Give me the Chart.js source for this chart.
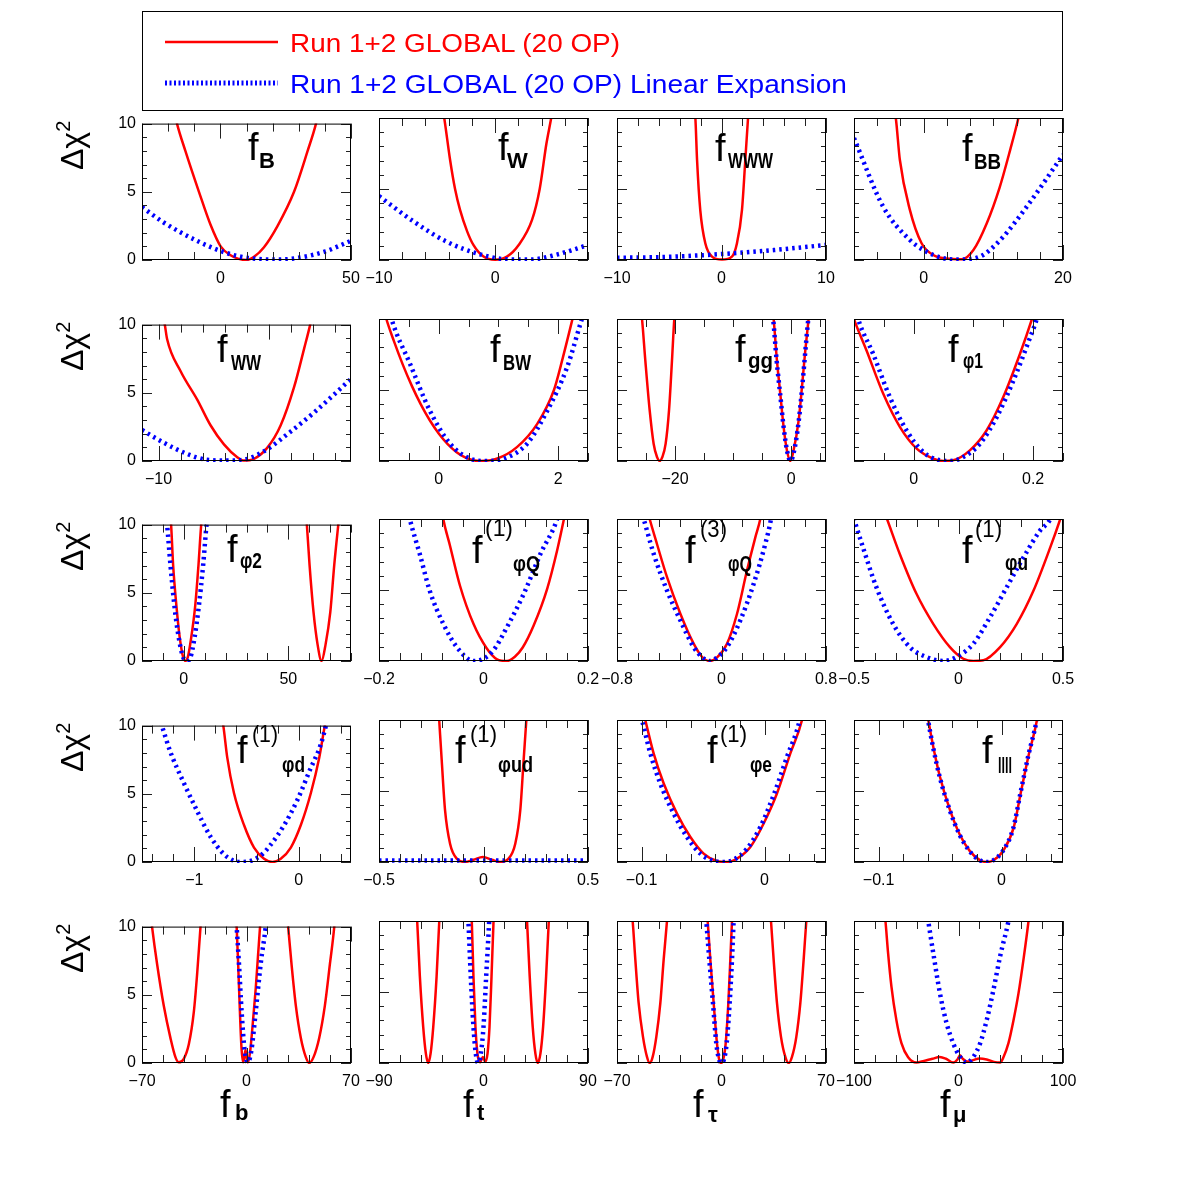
<!DOCTYPE html>
<html>
<head>
<meta charset="utf-8">
<script src="https://cdn.jsdelivr.net/npm/chart.js"></script>
<style>
html,body{margin:0;padding:0;background:#fff;width:1182px;height:1182px;overflow:hidden;position:relative}
canvas.p{position:absolute}
#ov{position:absolute;left:0;top:0;pointer-events:none}
#ov text{font-family:"Liberation Sans",Arial,sans-serif;fill:#000}
</style>
</head>
<body>
<svg id="ov" width="1182" height="1182" xmlns="http://www.w3.org/2000/svg"></svg>
<script>
// ---------------- DATA ----------------
const legendLabels = ['Run 1+2 GLOBAL (20 OP)', 'Run 1+2 GLOBAL (20 OP) Linear Expansion'];
const yTickLabels = [0, 5, 10];
const panelSub = ['B','W','WWW','BB','WW','BW','gg','\u03c61','\u03c62','\u03c6Q','\u03c6Q','\u03c6u','\u03c6d','\u03c6ud','\u03c6e','llll','b','t','\u03c4','\u03bc'];
const panelSup = ['','','','','','','','','','(1)','(3)','(1)','(1)','(1)','(1)','','','','',''];

const xRanges = [
  [-30,50],[-10,8],[-10,10],[-10,20],
  [-11.5,7.5],[-1,2.5],[-30,6],[-0.1,0.25],
  [-20,80],[-0.2,0.2],[-0.8,0.8],[-0.5,0.5],
  [-1.5,0.5],[-0.5,0.5],[-0.12,0.05],[-0.12,0.05],
  [-70,70],[-90,90],[-70,70],[-100,100]];
const xTickLabels = [
  [0,50],[-10,0],[-10,0,10],[0,20],
  [-10,0],[0,2],[-20,0],[0,0.2],
  [0,50],[-0.2,0,0.2],[-0.8,0,0.8],[-0.5,0,0.5],
  [-1,0],[-0.5,0,0.5],[-0.1,0],[-0.1,0],
  [-70,0,70],[-90,0,90],[-70,0,70],[-100,0,100]];
const xMinorSteps = [10,2,2,10/3, 2,0.5,5,0.05, 10,0.04,0.16,0.1, 0.2,0.1,0.02,0.02, 14,18,14,20];

// Red = Run 1+2 GLOBAL (20 OP); Blue = Linear Expansion.  [x, delta chi2]
const red_B = [[-17.5,10.8],[-16.6,10],[-13.4,8],[-8.2,5],[-3.8,2.6],[0.1,1.0],[3.9,0.35],[7,0.08],[10,0],[12.9,0.24],[16.7,0.94],[21.8,2.47],[28.2,5],[33.4,8],[36.6,10],[37.5,10.8]];
const blue_B = [[-30,3.88],[-21.7,2.75],[-8.9,1.4],[0.1,0.66],[7.8,0.24],[16.7,0.05],[22,0.03],[29.5,0.15],[40,0.62],[50,1.41]];
const red_W = [[-4.5,10.6],[-4.38,10],[-3.88,7.06],[-3.45,5],[-3.02,3.53],[-2.4,2],[-1.87,1.06],[-1.0,0.24],[0,0.02],[1.02,0.24],[2.03,1.06],[3.18,2.82],[3.84,5],[4.42,8.2],[4.83,10],[4.95,10.6]];
const blue_W = [[-10,4.5],[-7,2.7],[-4.2,1.3],[-1.3,0.4],[1,0.05],[3,0.03],[5.3,0.38],[8,1.06]];
const red_WWW = [[-2.6,10.6],[-2.5,10],[-2.34,7.06],[-2.03,3.5],[-1.55,1.18],[-0.91,0.24],[0.05,0.03],[1.0,0.24],[1.48,1.18],[1.96,3.53],[2.28,7.06],[2.54,10],[2.6,10.6]];
const blue_WWW = [[-10,0.16],[-6,0.2],[-2,0.33],[0,0.42],[2,0.52],[5,0.7],[10,1.06]];
const red_BB = [[-4.3,10.7],[-4.0,10],[-3.42,7.06],[-1.98,3.53],[-0.3,1.18],[1.38,0.35],[3.3,0.1],[5.5,0.05],[7.14,0.7],[9.06,2.59],[10.9,5.1],[12.42,7.76],[13.6,10],[13.9,10.7]];
const blue_BB = [[-10,8.59],[-5.82,3.76],[-1.98,1.41],[0,0.7],[2.82,0.12],[5.2,0.03],[8.1,0.24],[11,1.41],[14.8,3.76],[20,7.41]];

const red_WW = [[-9.6,10.6],[-9.43,10],[-9.22,8.95],[-8.0,6.6],[-6.48,4.5],[-5.27,2.62],[-4.05,1.22],[-2.84,0.28],[-2.23,0.03],[-1.32,0.16],[-0.1,0.98],[1.11,2.62],[2.33,5.43],[3.24,8.24],[3.79,10],[3.95,10.6]];
const blue_WW = [[-11.5,2.27],[-9.5,1.33],[-7.4,0.52],[-5.6,0.09],[-3.45,0.03],[-1.9,0.16],[-0.1,0.87],[2.0,2.15],[4.15,3.56],[7.5,6.02]];
const red_BW = [[-0.92,10.7],[-0.877,10],[-0.75,8.44],[-0.6,6.77],[-0.45,5.29],[-0.3,3.99],[-0.15,2.87],[0,1.94],[0.15,1.19],[0.3,0.62],[0.45,0.23],[0.6,0.03],[0.69,0],[0.97,0.16],[1.31,0.98],[1.65,2.62],[1.93,5],[2.08,7.3],[2.24,10],[2.28,10.7]];
const blue_BW = [[-0.83,10.7],[-0.79,10],[-0.48,6.84],[-0.15,3.56],[0.19,1.22],[0.53,0.16],[0.81,0],[1.09,0.16],[1.48,1.22],[1.82,3.56],[2.15,6.6],[2.38,9.77],[2.5,11.4]];
const red_gg = [[-25.9,10.7],[-25.69,10],[-25.12,7.07],[-24.37,3.56],[-23.69,1.22],[-23.11,0.28],[-22.65,0],[-22.19,0.28],[-21.62,1.22],[-21.04,3.56],[-20.53,7.07],[-20.13,10],[-19.95,10.7],[-12,null],
  [-3.2,10.7],[-3.02,10],[-2.45,7.07],[-1.87,4.73],[-1.3,2.39],[-0.73,0.75],[-0.15,0],[0.42,0.75],[1.29,2.86],[1.86,5.2],[2.43,7.78],[3.0,10],[3.2,10.7]];
const blue_gg = [[-3.3,10.7],[-3.1,10],[-2.5,7.07],[-1.9,4.73],[-1.3,2.39],[-0.7,0.7],[-0.1,0],[0.5,0.7],[1.3,2.8],[1.9,5.2],[2.45,7.78],[2.95,10],[3.15,10.7]];
const red_p1 = [[-0.105,10.7],[-0.1,10],[-0.079,7.78],[-0.051,4.73],[-0.023,2.39],[0.005,0.87],[0.033,0.16],[0.05,0],[0.066,0.05],[0.094,0.75],[0.122,2.15],[0.15,4.5],[0.178,7.55],[0.198,10],[0.203,10.7]];
const blue_p1 = [[-0.097,10.7],[-0.093,10],[-0.068,7.55],[-0.04,4.5],[-0.012,2.15],[0.016,0.63],[0.044,0.05],[0.061,0],[0.083,0.28],[0.111,1.22],[0.139,3.09],[0.167,5.67],[0.195,8.71],[0.206,10],[0.21,10.7]];

const red_p2 = [[-6.6,10.7],[-6.08,10],[-5.12,7.07],[-3.52,4.03],[-1.92,1.69],[-0.32,0.28],[0.8,0],[1.92,0.28],[3.52,1.69],[5.44,4.03],[7.04,7.07],[8.32,10],[8.8,10.7],[35,null],
  [58.5,10.7],[58.88,10],[60.16,7.07],[62.08,3.56],[64,1.22],[65.92,0],[67.84,1.22],[70.08,3.56],[72,7.07],[73.92,10],[74.4,10.7]];
const blue_p2 = [[-8.5,10.7],[-8,10],[-6.4,7.07],[-4.48,4.03],[-2.4,1.69],[-0.32,0.28],[1.28,0],[3.2,0.28],[5.12,1.69],[7.2,4.03],[9.28,7.07],[10.88,10],[11.4,10.7]];
const red_Q1 = [[-0.08,10.7],[-0.077,10],[-0.064,8.1],[-0.045,5.3],[-0.019,2.6],[0.006,0.9],[0.026,0.12],[0.045,0],[0.06,0.3],[0.075,0.95],[0.096,2.5],[0.122,5.1],[0.141,7.8],[0.154,10],[0.158,10.7]];
const blue_Q1 = [[-0.145,10.7],[-0.141,10],[-0.122,7.54],[-0.103,4.96],[-0.077,2.62],[-0.051,0.98],[-0.019,0],[0,0.16],[0.019,0.75],[0.045,2.39],[0.077,4.73],[0.109,7.54],[0.141,10],[0.146,10.7]];
const red_Q3 = [[-0.57,10.7],[-0.55,10],[-0.494,8.24],[-0.417,5.9],[-0.315,3.33],[-0.213,1.22],[-0.15,0.3],[-0.09,0],[-0.034,0.25],[0.042,1.22],[0.119,3.33],[0.195,6.37],[0.259,8.71],[0.297,10],[0.31,10.7]];
const blue_Q3 = [[-0.62,10.7],[-0.596,10],[-0.519,7.54],[-0.417,4.96],[-0.315,2.86],[-0.213,0.98],[-0.14,0.2],[-0.09,0],[-0.04,0.2],[0.042,0.98],[0.144,2.86],[0.246,5.43],[0.335,8.24],[0.379,10],[0.39,10.7]];
const red_u = [[-0.36,10.7],[-0.342,10],[-0.281,7.54],[-0.201,4.73],[-0.121,2.62],[-0.041,0.98],[0.023,0.16],[0.071,0],[0.119,0.05],[0.199,0.98],[0.279,2.62],[0.359,4.96],[0.439,8],[0.487,10],[0.5,10.6]];
const blue_u = [[-0.51,10.5],[-0.5,10],[-0.457,8.0],[-0.393,5.2],[-0.313,2.62],[-0.233,0.98],[-0.153,0.28],[-0.073,0],[-0.009,0.28],[0.071,1.22],[0.151,3.09],[0.231,5.2],[0.311,7.3],[0.391,9.2],[0.439,10],[0.45,10.5]];

const red_d = [[-0.74,10.7],[-0.722,10],[-0.684,7.65],[-0.62,5.06],[-0.524,2.71],[-0.428,1.06],[-0.332,0.24],[-0.252,0],[-0.172,0.24],[-0.076,1.06],[0.02,2.71],[0.116,5.06],[0.196,7.65],[0.25,10],[0.27,10.7]];
const blue_d = [[-1.34,10.7],[-1.31,10],[-1.23,8.1],[-1.1,5.8],[-0.97,3.7],[-0.84,1.8],[-0.72,0.6],[-0.62,0.08],[-0.54,0],[-0.46,0.08],[-0.36,0.5],[-0.27,1.25],[-0.14,2.7],[-0.01,4.6],[0.11,6.8],[0.21,8.6],[0.26,10],[0.28,10.7]];
const red_ud = [[-0.215,10.7],[-0.212,10],[-0.2,7.18],[-0.184,3.65],[-0.16,1.29],[-0.128,0.24],[-0.088,0],[-0.048,0.16],[-0.003,0.35],[0.04,0.16],[0.08,0],[0.12,0.24],[0.152,1.29],[0.176,3.65],[0.192,7.18],[0.205,10],[0.208,10.7]];
const blue_ud = [[-0.5,0.1],[-0.25,0.1],[0,0.1],[0.25,0.1],[0.5,0.1]];
const red_e = [[-0.099,10.7],[-0.097,10],[-0.0902,7.65],[-0.082,5.53],[-0.0712,3.41],[-0.0603,1.76],[-0.0495,0.59],[-0.0387,0.07],[-0.0305,0],[-0.0224,0.24],[-0.0115,1.06],[-0.0007,2.71],[0.0101,4.82],[0.021,7.65],[0.0305,10],[0.032,10.7]];
const blue_e = [[-0.102,10.7],[-0.0997,10],[-0.0929,7.65],[-0.0848,5.53],[-0.0739,3.41],[-0.0631,1.76],[-0.0522,0.59],[-0.0414,0.07],[-0.0332,0],[-0.0251,0.16],[-0.0143,0.94],[-0.0034,2.47],[0.0074,4.71],[0.0183,7.41],[0.0286,10],[0.03,10.7]];
const red_l = [[-0.061,10.7],[-0.0596,10],[-0.0555,8.1],[-0.0501,6.0],[-0.0419,3.65],[-0.0338,1.9],[-0.0256,0.75],[-0.0174,0.12],[-0.012,0],[-0.0066,0.12],[0.0016,0.82],[0.0098,2.4],[0.0157,4.9],[0.022,7.5],[0.0288,10],[0.03,10.7]];
const blue_l = [[-0.0612,10.7],[-0.0598,10],[-0.0557,8.1],[-0.0503,6.0],[-0.0421,3.65],[-0.034,1.9],[-0.0258,0.75],[-0.0176,0.12],[-0.0122,0],[-0.0068,0.12],[0.0014,0.82],[0.0096,2.4],[0.0155,4.9],[0.0218,7.5],[0.0286,10],[0.0298,10.7]];

const red_b = [[-64,10.7],[-63.28,10],[-59.92,7.28],[-55.44,4.21],[-50.96,1.84],[-47.6,0.43],[-45.36,0.05],[-42,0.31],[-38.64,1.37],[-35.28,3.74],[-33.04,6.57],[-30.8,10],[-30.3,10.7],[-20,null],
  [-7,10.7],[-6.6,10],[-5.6,7.3],[-4.5,4.0],[-3.4,1.2],[-2.3,0.05],[-1.4,0.5],[-0.6,0.95],[0.2,0.3],[1.0,0.05],[2.5,0.9],[4.2,2.9],[6.2,5.5],[7.8,8.0],[9.08,10],[9.5,10.7],[20,null],
  [27.4,10.7],[27.89,10],[30.13,7.28],[33.04,4.21],[36.4,1.84],[39.76,0.43],[42,0],[44.9,0.43],[48.7,1.84],[52.5,4.21],[55.9,7.28],[58.8,10],[59.3,10.7]];
const blue_b = [[-7,10.7],[-6.6,10],[-5.04,7.28],[-3.25,3.74],[-1.23,0.9],[1.01,0.05],[3.25,0.9],[6.16,3.74],[9.52,7.28],[12.88,10],[13.5,10.7]];
const red_t = [[-57.8,10.7],[-57.12,10],[-54.81,6.1],[-51.93,2.55],[-49.62,0.66],[-47.6,0],[-45.58,0.66],[-43.27,2.55],[-40.39,6.1],[-38.08,10],[-37.5,10.7],[-25,null],
  [-10.5,10.7],[-10.1,10],[-8.66,6.1],[-6.93,2.55],[-5.2,0.66],[-2.89,0.05],[-0.58,0.43],[1.44,0.1],[3.46,0.66],[5.18,2.55],[6.91,6.1],[8.65,10],[9.1,10.7],[25,null],
  [37,10.7],[37.49,10],[39.8,6.1],[42.39,2.55],[44.7,0.66],[46.72,0],[49.02,0.66],[51.33,2.55],[53.93,6.1],[56.24,10],[56.8,10.7]];
const blue_t = [[-13.4,10.7],[-12.99,10],[-10.97,6.1],[-8.66,2.55],[-6.64,0.66],[-4.62,0],[-2.31,0.66],[0,2.55],[2.3,6.1],[4.9,10],[5.3,10.7]];
const red_tau = [[-60.2,10.7],[-59.51,10],[-57.72,7.28],[-55.49,4.21],[-52.59,1.84],[-49.91,0.43],[-48.12,0],[-46.11,0.43],[-43.66,1.84],[-40.98,4.21],[-38.74,7.28],[-36.51,10],[-36,10.7],[-20,null],
  [-9.7,10.7],[-9.27,10],[-7.49,7.28],[-5.25,4.21],[-3.02,1.37],[-1.46,0.19],[-0.34,0],[1,0.19],[2.79,1.37],[4.57,4.21],[5.91,7.28],[7.03,10],[7.4,10.7],[20,null],
  [32.6,10.7],[33.15,10],[34.93,7.28],[37.17,4.21],[39.85,1.84],[42.75,0.43],[44.98,0],[47.21,0.43],[50.12,1.84],[52.8,4.21],[55.03,7.28],[56.82,10],[57.4,10.7]];
const blue_tau = [[-10.6,10.7],[-10.16,10],[-8.16,7.28],[-5.7,4.21],[-3.47,1.37],[-1.46,0.19],[-0.12,0],[1.44,0.19],[3.45,1.37],[5.46,4.21],[7.03,7.28],[8.14,10],[8.5,10.7]];
const red_mu = [[-71,10.7],[-69.9,10],[-67.4,7.75],[-64.2,5.4],[-59.4,3.0],[-54.6,1.4],[-48.2,0.4],[-40.2,0.03],[-33,0.15],[-25,0.3],[-18,0.42],[-12,0.3],[-5,0.03],[-1,0.25],[1.5,0.55],[4,0.3],[8,0.1],[14,0.2],[20,0.32],[27,0.25],[34,0.08],[39.8,0.03],[43,0.4],[47.8,1.4],[52.6,3.0],[57.4,4.9],[62.2,7.3],[67,10],[68,10.7]];
const blue_mu = [[-30.4,10.7],[-28.96,10],[-24.16,7.75],[-17.76,4.91],[-11.36,2.79],[-4.96,1.37],[1.44,0.43],[7.84,0.03],[14.24,0.43],[20.64,1.37],[27.04,3.03],[33.44,5.15],[39.84,7.52],[47.84,10],[49.5,10.7]];

const redCurves = [red_B,red_W,red_WWW,red_BB, red_WW,red_BW,red_gg,red_p1, red_p2,red_Q1,red_Q3,red_u, red_d,red_ud,red_e,red_l, red_b,red_t,red_tau,red_mu];
const blueCurves = [blue_B,blue_W,blue_WWW,blue_BB, blue_WW,blue_BW,blue_gg,blue_p1, blue_p2,blue_Q1,blue_Q3,blue_u, blue_d,blue_ud,blue_e,blue_l, blue_b,blue_t,blue_tau,blue_mu];

// ---------------- LAYOUT ----------------
const colLeft = [142, 379, 617, 854];
const rowTop = [118, 319, 519, 720, 921];
const PW = 209, PH = 142;
const padL = 45, padR = 30, padT = 10, padB = 32;
// [fx, fBaseline, subX, subBaseline, subWidth, supX, supBaseline, supWidth]
const titlePos = [
  [248,160, 259,168,0, 0,0,0],
  [498,160, 507,168,0, 0,0,0],
  [715,161, 728,168,45, 0,0,0],
  [962,161, 974,169,27, 0,0,0],
  [217,362, 231,370,30, 0,0,0],
  [490,362, 503,370,28, 0,0,0],
  [735,362, 748,368,25, 0,0,0],
  [948,362, 963,368,20, 0,0,0],
  [227,562, 240,568,22, 0,0,0],
  [472,563, 513,571,27, 485,536,28],
  [685,563, 728,571,24, 700,537,27],
  [962,563, 1005,570,23, 975,537,27],
  [237,763, 282,772,23, 252,742,26],
  [455,763, 498,772,35, 470,742,27],
  [707,763, 750,772,22, 720,742,27],
  [982,763, 998,773,14, 0,0,0],
  [220,1117, 235,1120,0, 0,0,0],
  [463,1117, 477,1120,0, 0,0,0],
  [693,1117, 708,1122,0, 0,0,0],
  [940,1117, 953,1122,0, 0,0,0]
];

Chart.defaults.font.family = '"Liberation Sans", Arial, sans-serif';

const fmt = v => (v < 0 ? '\u2212' + String(-v) : String(v));

const frameTicks = {
  id: 'frameTicks',
  afterDatasetsDraw(chart) {
    const o = chart.options.plugins.frameTicks;
    const ctx = chart.ctx, a = chart.chartArea;
    const xs = chart.scales.x, ys = chart.scales.y;
    ctx.save();
    ctx.strokeStyle = '#222';
    ctx.lineWidth = 1;
    ctx.beginPath();
    const k0 = Math.ceil(xs.min / o.minor - 1e-6), k1 = Math.floor(xs.max / o.minor + 1e-6);
    for (let k = k0; k <= k1; k++) {
      const v = k * o.minor;
      const major = o.majors.some(m => Math.abs(m - v) < o.minor * 1e-3);
      const L = major ? 15 : 8;
      const px = Math.round(xs.getPixelForValue(v)) + 0.5;
      ctx.moveTo(px, a.bottom); ctx.lineTo(px, a.bottom - L);
      ctx.moveTo(px, a.top); ctx.lineTo(px, a.top + L);
    }
    for (let v = 0; v <= 10; v++) {
      const L = (v % 5 === 0) ? 10 : 5;
      const py = Math.round(ys.getPixelForValue(v)) + 0.5;
      ctx.moveTo(a.left, py); ctx.lineTo(a.left + L, py);
      ctx.moveTo(a.right, py); ctx.lineTo(a.right - L, py);
    }
    ctx.stroke();
    ctx.strokeStyle = '#000';
    ctx.strokeRect(a.left + 0.5, a.top + 0.5, a.right - a.left - 1, a.bottom - a.top - 1);
    ctx.restore();
  }
};

const toXY = arr => arr.map(p => ({x: p[0], y: p[1]}));
const clipBox = {left: 0, right: 0, top: 0, bottom: 1};

function makePanel(i) {
  const r = Math.floor(i / 4), c = i % 4;
  const cv = document.createElement('canvas');
  cv.width = padL + PW + padR;
  cv.height = padT + PH + padB;
  cv.className = 'p';
  cv.style.left = (colLeft[c] - padL) + 'px';
  cv.style.top = (rowTop[r] - padT) + 'px';
  document.body.insertBefore(cv, document.getElementById('ov'));
  new Chart(cv, {
    type: 'line',
    data: {
      datasets: [
        {label: legendLabels[1], data: toXY(blueCurves[i]), borderColor: '#0000ff', borderWidth: 4.5,
         borderDash: [2.5, 4], borderCapStyle: 'butt', pointRadius: 0, cubicInterpolationMode: 'monotone',
         fill: false, spanGaps: false, clip: clipBox},
        {label: legendLabels[0], data: toXY(redCurves[i]), borderColor: '#ff0000', borderWidth: 2.5,
         pointRadius: 0, cubicInterpolationMode: 'monotone', fill: false, spanGaps: false, clip: clipBox}
      ]
    },
    options: {
      responsive: false, animation: false, devicePixelRatio: 1, events: [],
      layout: {padding: {left: 0, right: padR, top: padT, bottom: 0}},
      plugins: {
        legend: {display: false}, tooltip: {enabled: false},
        frameTicks: {minor: xMinorSteps[i], majors: xTickLabels[i]}
      },
      scales: {
        x: {
          type: 'linear', position: 'bottom', min: xRanges[i][0], max: xRanges[i][1],
          afterBuildTicks: s => { s.ticks = xTickLabels[i].map(v => ({value: v})); },
          afterFit: s => { s.height = padB; },
          grid: {display: false, drawTicks: false}, border: {display: false},
          ticks: {autoSkip: false, maxRotation: 0, minRotation: 0, padding: 9, color: '#000',
                  font: {size: 16}, callback: v => fmt(v)}
        },
        y: {
          type: 'linear', position: 'left', min: 0, max: 10,
          afterBuildTicks: s => { s.ticks = yTickLabels.map(v => ({value: v})); },
          afterFit: s => { s.width = padL; },
          grid: {display: false, drawTicks: false}, border: {display: false},
          ticks: {display: c === 0, padding: 6, color: '#000', font: {size: 16}, callback: v => String(v)}
        }
      }
    },
    plugins: [frameTicks]
  });
}

for (let i = 0; i < 20; i++) makePanel(i);

// ---------------- TEXT OVERLAY ----------------
let s = '';
s += '<rect x="142.5" y="11.5" width="920" height="99" fill="none" stroke="#000" stroke-width="1"/>';
s += '<line x1="165" y1="42" x2="278" y2="42" stroke="#ff0000" stroke-width="2.5"/>';
s += '<line x1="165" y1="83" x2="278" y2="83" stroke="#0000ff" stroke-width="5" stroke-dasharray="2 2.5"/>';
s += '<text x="290" y="52" font-size="26" style="fill:#ff0000" textLength="330" lengthAdjust="spacingAndGlyphs">' + legendLabels[0] + '</text>';
s += '<text x="290" y="93" font-size="26" style="fill:#0000ff" textLength="557" lengthAdjust="spacingAndGlyphs">' + legendLabels[1] + '</text>';

rowTop.forEach(t => {
  s += '<text transform="translate(83,' + (t + 52) + ') rotate(-90)" font-size="32">\u0394\u03c7<tspan dy="-13" font-size="20">2</tspan></text>';
});

panelSub.forEach((sub, i) => {
  const p = titlePos[i];
  s += '<text x="' + p[0] + '" y="' + p[1] + '" font-size="38">f</text>';
  if (panelSup[i]) {
    s += '<text x="' + p[5] + '" y="' + p[6] + '" font-size="24"' +
         (p[7] ? ' textLength="' + p[7] + '" lengthAdjust="spacingAndGlyphs"' : '') + '>' + panelSup[i] + '</text>';
  }
  s += '<text x="' + p[2] + '" y="' + p[3] + '" font-size="22" font-weight="bold"' +
       (p[4] ? ' textLength="' + p[4] + '" lengthAdjust="spacingAndGlyphs"' : '') + '>' + sub + '</text>';
});
document.getElementById('ov').innerHTML = s;
</script>
</body>
</html>
